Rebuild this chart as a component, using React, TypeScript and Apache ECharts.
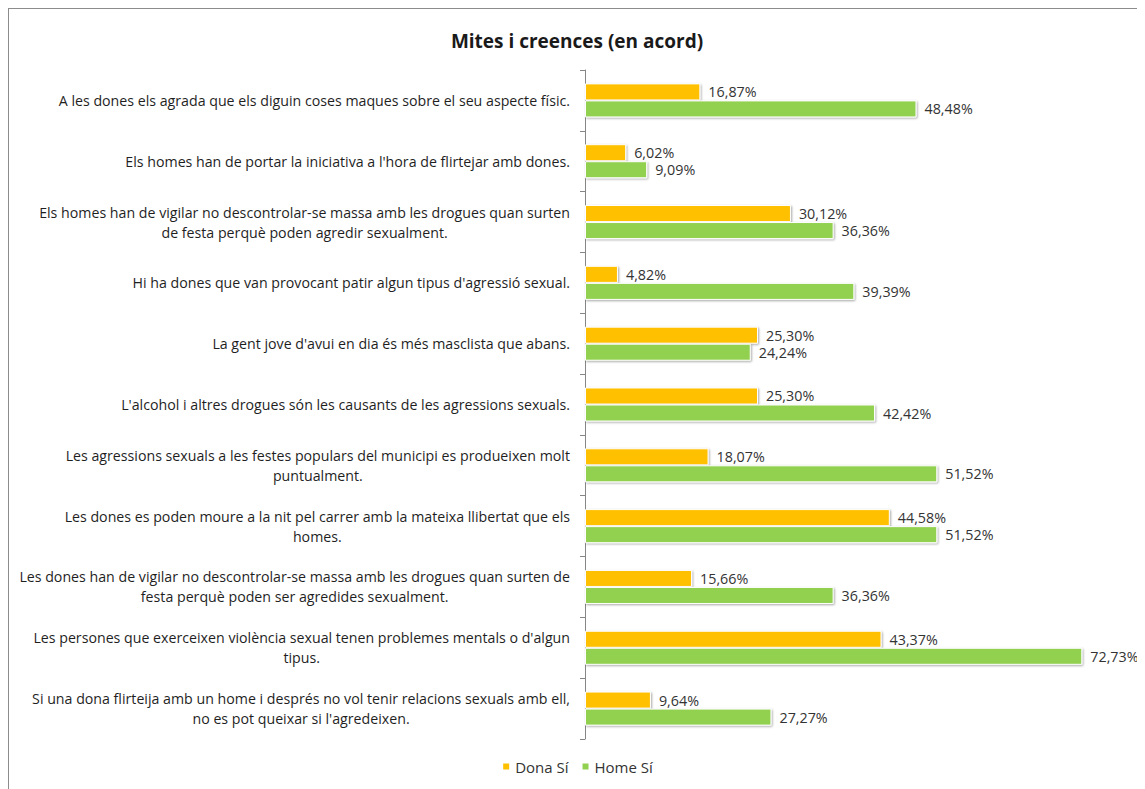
import React, { useEffect, useRef } from "react";
import * as echarts from "echarts";

const categories: string[][] = [
  ["A les dones els agrada que els diguin coses maques sobre el seu aspecte físic."],
  ["Els homes han de portar la iniciativa a l'hora de flirtejar amb dones."],
  ["Els homes han de vigilar no descontrolar-se massa amb les drogues quan surten", "de festa perquè poden agredir sexualment."],
  ["Hi ha dones que van provocant patir algun tipus d'agressió sexual."],
  ["La gent jove d'avui en dia és més masclista que abans."],
  ["L'alcohol i altres drogues són les causants de les agressions sexuals."],
  ["Les agressions sexuals a les festes populars del municipi es produeixen molt", "puntualment."],
  ["Les dones es poden moure a la nit pel carrer amb la mateixa llibertat que els", "homes."],
  ["Les dones han de vigilar no descontrolar-se massa amb les drogues quan surten de", "festa perquè poden ser agredides sexualment."],
  ["Les persones que exerceixen violència sexual tenen problemes mentals o d'algun", "tipus."],
  ["Si una dona flirteija amb un home i després no vol tenir relacions sexuals amb ell,", "no es pot queixar si l'agredeixen."],
];

const donaSi = [16.87, 6.02, 30.12, 4.82, 25.3, 25.3, 18.07, 44.58, 15.66, 43.37, 9.64];
const homeSi = [48.48, 9.09, 36.36, 39.39, 24.24, 42.42, 51.52, 51.52, 36.36, 72.73, 27.27];

const seriesNames = ["Dona Sí", "Home Sí"];
const colors = ["#FFC000", "#92D050"];

const FONT = "Open Sans";

export default function App() {
  const ref = useRef<HTMLDivElement>(null);
  useEffect(() => {
    document.documentElement.style.overflow = "hidden";
    document.body.style.overflow = "hidden";
    const chart = echarts.init(ref.current!, null, { renderer: "svg" });
    const fmt = (v: number) => v.toFixed(2).replace(".", ",") + "%";
    const mkSeries = (name: string, data: number[], color: string) => ({
      name,
      type: "bar",
      data,
      barGap: "0%",
      barCategoryGap: "44%",
      itemStyle: {
        color,
        borderColor: "#ffffff",
        borderWidth: 1,
        shadowColor: "rgba(0,0,0,0.35)",
        shadowBlur: 2,
        shadowOffsetX: 1,
        shadowOffsetY: 1,
      },
      label: {
        show: true,
        position: "right",
        distance: 8,
        formatter: (p: any) => fmt(p.value),
        color: "#333333",
        fontFamily: FONT,
        fontSize: 14.3,
        lineHeight: 16,
      },
    });
    chart.setOption({
      animation: false,
      color: colors,
      title: {
        text: "Mites i creences (en acord)",
        left: "center",
        top: 17,
        textStyle: { fontFamily: FONT, fontSize: 19, fontWeight: "bold", color: "#1a1a1a" },
      },
      legend: {
        bottom: 10,
        left: "center",
        itemWidth: 8,
        itemHeight: 8,
        itemGap: 12,
        icon: "rect",
        textStyle: { fontFamily: FONT, fontSize: 15, color: "#333333" },
        data: seriesNames,
      },
      grid: { left: 576, right: 13, top: 61, bottom: 50, containLabel: false },
      xAxis: {
        type: "value",
        min: 0,
        max: 80,
        show: false,
      },
      yAxis: {
        type: "category",
        inverse: true,
        data: categories.map((c) => c.join("\n")),
        axisLine: { show: true, lineStyle: { color: "#868686", width: 1 } },
        axisTick: { show: true, length: 5, lineStyle: { color: "#868686" } },
        axisLabel: {
          margin: 15,
          align: "right",
          fontFamily: FONT,
          fontSize: 14.2,
          color: "#1f1f1f",
          lineHeight: 20,
          formatter: (v: string) => v.split("\n").map((l) => "{c|" + l + "}").join("\n"),
          rich: { c: { align: "center", fontFamily: FONT, fontSize: 14.2, color: "#1f1f1f", lineHeight: 20 } },
        },
      },
      series: [mkSeries(seriesNames[0], donaSi, colors[0]), mkSeries(seriesNames[1], homeSi, colors[1])],
    });
    return () => chart.dispose();
  }, []);
  return (
    <div
      ref={ref}
      style={{
        width: 1136,
        height: 780,
        borderLeft: "1px solid #8c8c8c",
        borderTop: "1px solid #8c8c8c",
        background: "#fff",
      }}
    />
  );
}
